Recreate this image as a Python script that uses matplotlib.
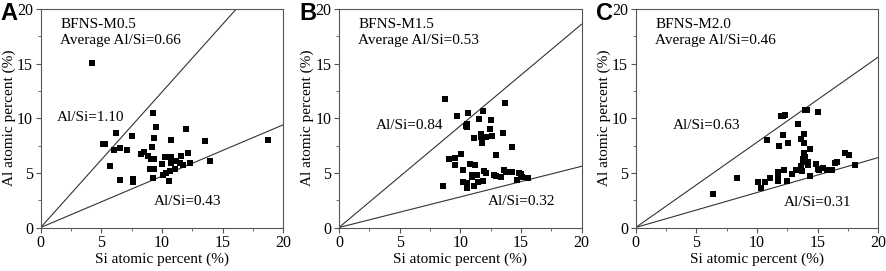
import matplotlib.pyplot as plt
from matplotlib.ticker import MultipleLocator

plt.rcParams['font.family'] = ['Liberation Serif', 'DejaVu Serif']

# Panel A: BFNS-M0.5
si_a = [4.27, 9.23, 5.10, 5.34, 6.25, 7.49, 6.03, 6.50, 7.08, 5.73, 6.56, 7.60, 7.58,
        9.48, 11.96, 9.37, 10.74, 13.53, 18.76, 9.17, 8.24, 8.48, 8.84, 9.09, 9.37,
        10.28, 10.72, 11.60, 12.18, 10.00, 10.74, 11.16, 11.46, 11.74, 12.29, 13.97,
        8.98, 9.31, 11.07, 10.63, 10.33, 10.11, 9.23, 10.55]
al_a = [15.08, 10.50, 7.66, 7.60, 8.67, 8.40, 7.11, 7.30, 7.08, 5.65, 4.34, 4.40, 4.15,
        9.16, 8.98, 8.20, 7.97, 7.94, 8.00, 7.39, 6.72, 6.90, 6.53, 6.29, 6.29,
        6.41, 6.41, 6.56, 6.84, 5.77, 5.92, 6.05, 5.92, 5.74, 5.89, 6.05,
        5.31, 5.31, 5.31, 5.19, 5.00, 4.82, 4.52, 4.24]

# Panel B: BFNS-M1.5
si_b = [8.76, 13.68, 9.73, 10.60, 11.87, 11.57, 10.55, 10.55, 10.44, 12.50, 12.47,
        11.70, 11.70, 12.09, 12.64, 11.10, 11.81, 13.52, 14.29, 12.97, 10.03, 9.09,
        9.53, 9.53, 10.77, 11.18, 10.19, 11.92, 12.09, 10.93, 10.93, 11.40, 12.80,
        12.97, 13.63, 13.74, 13.40, 14.29, 14.84, 14.97, 15.00, 14.67, 15.10, 15.58,
        10.19, 10.52, 10.55, 11.48, 11.84, 11.10, 8.60]
al_b = [11.72, 11.36, 10.20, 10.47, 10.63, 9.89, 9.50, 9.19, 9.25, 9.83, 9.04,
        8.52, 8.30, 8.30, 8.34, 8.15, 7.69, 8.61, 7.39, 6.63, 6.69, 6.23,
        6.38, 5.71, 5.77, 5.68, 5.25, 5.13, 4.95, 4.79, 4.64, 4.76, 4.76,
        4.70, 5.25, 5.10, 4.58, 5.10, 4.95, 4.88, 4.79, 4.34, 4.61, 4.49,
        4.18, 4.03, 3.57, 4.12, 4.30, 3.79, 3.82]

# Panel C: BFNS-M2.0
si_c = [6.37, 8.35, 10.11, 10.36, 10.69, 11.04, 10.82, 11.98, 12.17, 12.34, 12.17,
        11.84, 11.76, 11.76, 11.70, 12.20, 12.47, 12.53, 12.86, 13.38, 13.19, 13.96,
        14.09, 15.03, 13.63, 13.90, 13.87, 14.40, 14.18, 14.20, 13.76, 13.82, 13.85,
        13.90, 13.96, 13.65, 13.71, 14.40, 14.89, 15.00, 15.14, 15.47, 15.80, 16.07,
        16.21, 16.40, 16.62, 17.28, 17.60, 18.10]
al_c = [3.03, 4.55, 4.13, 3.58, 4.19, 4.49, 8.04, 10.17, 10.23, 10.29, 8.44,
        7.47, 5.10, 4.83, 4.22, 5.22, 4.28, 7.71, 4.92, 9.44, 5.28, 10.71,
        10.71, 10.59, 8.13, 8.56, 7.77, 7.22, 5.74, 5.95, 5.98, 6.28, 6.65,
        6.80, 6.46, 5.64, 5.13, 4.73, 5.83, 5.37, 5.22, 5.43, 5.30, 5.30,
        5.30, 5.92, 5.98, 6.80, 6.65, 5.70]

panel_letters = ['A', 'B', 'C']
sample_names = ['BFNS-M0.5', 'BFNS-M1.5', 'BFNS-M2.0']
average_ratio = ['0.66', '0.53', '0.46']
upper_label = ['1.10', '0.84', '0.63']
lower_label = ['0.43', '0.32', '0.31']
# slopes of the guide lines as drawn in the figure
upper_slope = [1.24, 0.93, 0.78]
lower_slope = [0.47, 0.28, 0.32]
upper_text_pos = [(1.3, 10.1), (3.05, 9.37), (3.05, 9.3)]
lower_text_pos = [(9.3, 2.35), (12.25, 2.35), (12.23, 2.3)]

xs = [si_a, si_b, si_c]
ys = [al_a, al_b, al_c]

fig = plt.figure(figsize=(8.86, 2.71), dpi=100)
W, H = 886, 271
lefts = [40.7, 339, 635.7]
axw = 242.5
top, bottom = 9, 227.5

for i in range(3):
    ax = fig.add_axes([lefts[i] / W, 1 - bottom / H, axw / W, (bottom - top) / H])
    ax.scatter(xs[i], ys[i], marker='s', s=16, color='black', linewidths=0, zorder=3)
    ax.plot([0, 20], [0, 20 * upper_slope[i]], color='#333333', lw=0.8)
    ax.plot([0, 20], [0, 20 * lower_slope[i]], color='#333333', lw=0.8)
    ax.set_xlim(0, 20)
    ax.set_ylim(0, 20)
    ax.xaxis.set_major_locator(MultipleLocator(5))
    ax.yaxis.set_major_locator(MultipleLocator(5))
    ax.xaxis.set_minor_locator(MultipleLocator(2.5))
    ax.yaxis.set_minor_locator(MultipleLocator(2.5))
    ax.tick_params(which='major', direction='out', length=3.5, width=0.8,
                   labelsize=11.5, color='#555555', pad=2)
    ax.tick_params(which='minor', direction='out', length=2, width=0.6, color='#555555')
    for sp in ax.spines.values():
        sp.set_color('#555555')
        sp.set_linewidth(0.8)
    ax.set_xlabel('Si atomic percent (%)', fontsize=11, labelpad=1)
    ax.set_ylabel('Al atomic percent (%)', fontsize=11, labelpad=1)
    ax.text(1.6, 18.6, sample_names[i], fontsize=11, va='center')
    ax.text(1.6, 17.1, 'Average Al/Si=' + average_ratio[i], fontsize=11, va='center')
    ax.text(*upper_text_pos[i], 'Al/Si=' + upper_label[i], fontsize=11, va='center')
    ax.text(*lower_text_pos[i], 'Al/Si=' + lower_label[i], fontsize=11, va='center')
    fig.text((lefts[i] - 40) / W, 1 - 14 / H, panel_letters[i], fontsize=17,
             fontweight='bold', family='Liberation Sans', va='center', ha='left')

fig.savefig('out.png', dpi=100)
